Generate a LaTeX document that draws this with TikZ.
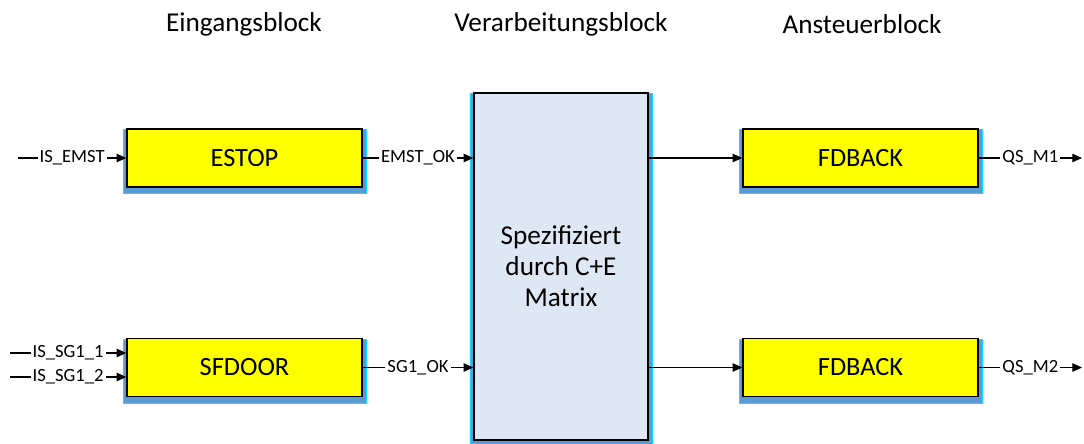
\documentclass[tikz,border=0pt]{standalone}
\usepackage{fontspec}
\setmainfont{Carlito}
\usetikzlibrary{arrows.meta,backgrounds,calc}
\definecolor{blockyellow}{RGB}{255,255,0}
\definecolor{procblue}{RGB}{222,232,244}
\definecolor{shadowblue}{RGB}{91,155,213}
\definecolor{glowcyan}{RGB}{0,230,255}
\tikzset{
  fblock/.style={
    draw,
    fill=blockyellow,
    line width=0.8pt,
    minimum width=4.7cm,
    minimum height=1.16cm,
    font=\fontsize{15}{18}\selectfont
  },
  procblock/.style={
    draw,
    fill=procblue,
    line width=0.8pt,
    minimum width=3.48cm,
    minimum height=6.94cm,
    align=center,
    font=\fontsize{15.5}{17.6}\selectfont
  },
  blocktitle/.style={font=\fontsize{15.5}{18}\selectfont},
  signal/.style={-{Triangle[length=5.5pt,width=4.8pt]},line width=0.6pt},
  siglabel/.style={fill=white,inner sep=1.2pt,font=\fontsize{10.6}{12}\selectfont},
  bshadow/.style={fill=shadowblue,draw=glowcyan,line width=0.5pt}
}

\begin{document}
\begin{tikzpicture}[x=1cm,y=1cm]
\useasboundingbox (0,0) rectangle (21.68,8.86);

% Ueberschriften
\node[blocktitle] (titleIn) at (4.88,8.37) {Eingangsblock};
\node[blocktitle] (titleProc) at (11.22,8.37) {Verarbeitungsblock};
\node[blocktitle] (titleOut) at (17.24,8.37) {Ansteuerblock};

% Bausteine
\node[fblock] (estop) at (4.89,5.70) {ESTOP};
\node[fblock] (sfdoor) at (4.89,1.51) {SFDOOR};
\node[procblock] (proc) at (11.22,3.53) {Spezifiziert\\durch C+E\\Matrix};
\node[fblock] (fdbackA) at (17.21,5.70) {FDBACK};
\node[fblock] (fdbackB) at (17.21,1.51) {FDBACK};

% Schatten hinter den Bausteinen
\begin{scope}[on background layer]
  \foreach \b in {estop,sfdoor,proc,fdbackA,fdbackB}
    \draw[bshadow] ($(\b.south west)+(-0.06,-0.12)$) rectangle ($(\b.north east)+(0.08,-0.03)$);
\end{scope}

% freie Enden der Signale
\coordinate (inEmst) at (0.36,5.70);
\coordinate (inSgA) at (0.20,1.80);
\coordinate (inSgB) at (0.20,1.32);
\coordinate (outA) at (21.64,5.70);
\coordinate (outB) at (21.64,1.51);

% Eingaenge
\draw[signal] (inEmst) -- (estop.west) node[midway,siglabel] {IS\_EMST};
\draw[signal] (inSgA) -- (inSgA -| sfdoor.west) node[midway,siglabel] {IS\_SG1\_1};
\draw[signal] (inSgB) -- (inSgB -| sfdoor.west) node[midway,siglabel] {IS\_SG1\_2};

% Verarbeitung
\draw[signal] (estop.east) -- (estop.east -| proc.west) node[midway,siglabel] {EMST\_OK};
\draw[signal] (sfdoor.east) -- (sfdoor.east -| proc.west) node[midway,siglabel] {SG1\_OK};
\draw[signal] (fdbackA.west -| proc.east) -- (fdbackA.west);
\draw[signal] (fdbackB.west -| proc.east) -- (fdbackB.west);

% Ausgaenge
\draw[signal] (fdbackA.east) -- (outA) node[midway,siglabel] {QS\_M1};
\draw[signal] (fdbackB.east) -- (outB) node[midway,siglabel] {QS\_M2};

\end{tikzpicture}
\end{document}
